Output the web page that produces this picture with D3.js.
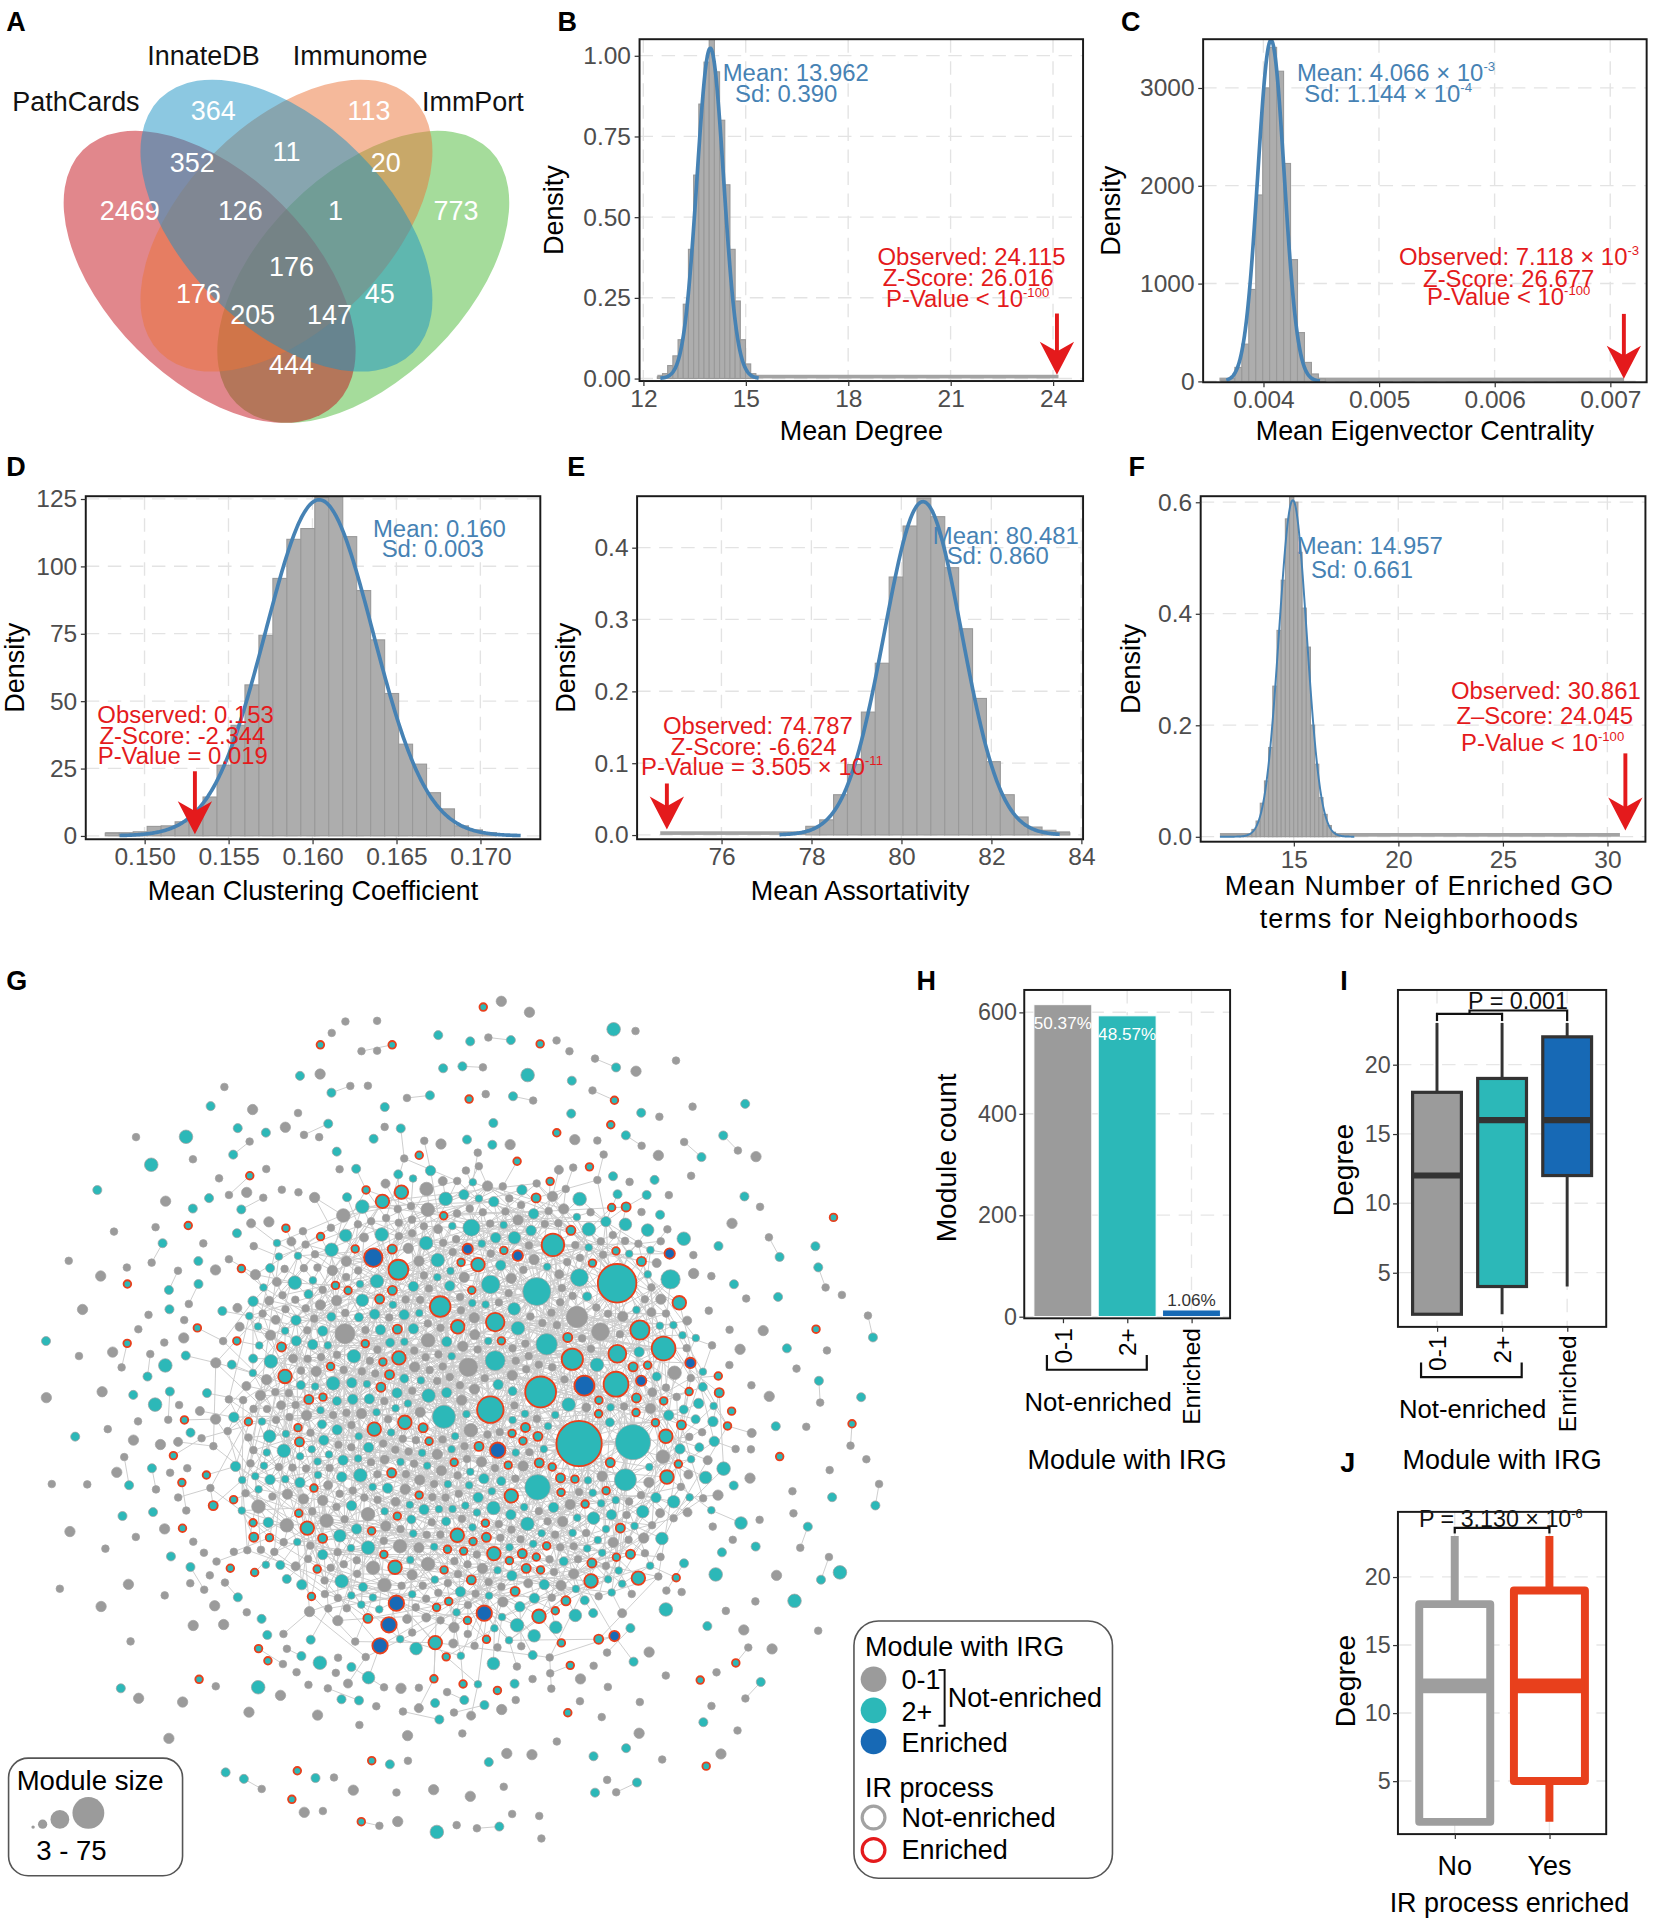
<!DOCTYPE html>
<html><head><meta charset="utf-8">
<script src="https://cdn.jsdelivr.net/npm/d3@7/dist/d3.min.js"></script>
<style>
html,body{margin:0;padding:0;background:#fff;}
svg{display:block;}
</style></head>
<body>
<svg id="fig"></svg>
<script>
// ======================= DATA =======================
// A  Venn diagram of immune-related gene sources
const vennSetNames = ["PathCards", "InnateDB", "Immunome", "ImmPort"];
const vennRegionCounts = [2469, 364, 113, 773, 352, 11, 20, 126, 1, 176, 176, 45, 205, 147, 444];

// B  Mean degree null distribution
const degreeBinStart = 12.41, degreeBinWidth = 0.152;
const degreeDensity = [0.005, 0.015, 0.04, 0.07, 0.12, 0.23, 0.40, 0.63, 0.85, 0.98, 1.08, 0.95, 0.80, 0.60, 0.40, 0.24, 0.12, 0.045, 0.015];
const degreeFit = [13.962, 0.390];          // mean, sd of normal fit
const degreeObserved = 24.115;
const degreeXTicks = [12, 15, 18, 21, 24];
const degreeYTicks = [0, 0.25, 0.5, 0.75, 1.0];

// C  Mean eigenvector centrality
const eigenBinStart = 0.003633, eigenBinWidth = 0.0000602;
const eigenDensity = [8, 30, 142, 380, 939, 1905, 3000, 3414, 3170, 2227, 1244, 498, 193, 75, 24];
const eigenFit = [0.004066, 0.0001144];
const eigenObserved = 0.007118;
const eigenXTicks = [0.004, 0.005, 0.006, 0.007];
const eigenYTicks = [0, 1000, 2000, 3000];

// D  Mean clustering coefficient
const clusterBinStart = 0.14766, clusterBinWidth = 0.000832;
const clusterDensity = [1, 1, 1.5, 3.5, 3.7, 5.2, 8, 14.4, 26.2, 41, 56, 74.4, 95.5, 110, 114, 125.5, 127, 111, 91, 72.7, 52.8, 34, 26.6, 16, 10, 3.7, 2.2, 1];
const clusterFit = [0.1604, 0.0032];
const clusterObserved = 0.153;
const clusterXTicks = [0.150, 0.155, 0.160, 0.165, 0.170];
const clusterYTicks = [0, 25, 50, 75, 100, 125];

// E  Mean assortativity
const assortBinStart = 77.875, assortBinWidth = 0.309;
const assortDensity = [0.012, 0.021, 0.056, 0.098, 0.171, 0.239, 0.359, 0.430, 0.469, 0.443, 0.372, 0.287, 0.190, 0.102, 0.056, 0.025, 0.011, 0.0065, 0.003];
const assortFit = [80.481, 0.860];
const assortObserved = 74.787;
const assortXTicks = [76, 78, 80, 82, 84];
const assortYTicks = [0, 0.1, 0.2, 0.3, 0.4];

// F  Mean number of enriched GO terms
const goBinStart = 12.4, goBinWidth = 0.2;
const goDensity = [0.001, 0.002, 0.005, 0.013, 0.028, 0.06, 0.10, 0.16, 0.27, 0.37, 0.46, 0.57, 0.61, 0.60, 0.51, 0.41, 0.34, 0.20, 0.13, 0.07, 0.04, 0.02, 0.008, 0.003];
const goFit = [14.957, 0.661];
const goObserved = 30.861;
const goXTicks = [15, 20, 25, 30];
const goYTicks = [0, 0.2, 0.4, 0.6];

// H  Module counts by IRG content
const irgCategories = ["0-1", "2+", "Enriched"];
const irgModuleCounts = [615, 593, 13];
const irgModulePercent = ["50.37%", "48.57%", "1.06%"];
const moduleCountTicks = [0, 200, 400, 600];

// I  Degree by IRG category  [lower whisker, Q1, median, Q3, upper whisker]
const irgDegreeBox = [[2, 2, 12, 18, 23], [2, 4, 16, 19, 23], [4, 12, 16, 22, 23]];
const degreeTicksI = [5, 10, 15, 20];

// J  Degree by IR process enrichment
const irProcessGroups = ["No", "Yes"];
const irDegreeBox = [[2, 2, 12, 18, 23], [2, 5, 12, 19, 23]];
const degreeTicksJ = [5, 10, 15, 20];

// G  Module network: largest modules  [IRG group, IR process enriched (1/0), module size]
const hubModules = [
  ["2+",1,75],["2+",1,55],["2+",0,46],["2+",1,36],["2+",0,30],["2+",1,27],["2+",0,25],["2+",1,24],
  ["2+",1,22],["2+",0,21],["2+",1,20],["2+",0,19],["2+",1,18],["2+",0,18],["2+",1,17],["2+",0,16],
  ["2+",1,16],["2+",0,15],["2+",1,15],["2+",0,14],["2+",1,14],["2+",0,13],["2+",1,13],["2+",0,12],
  ["0-1",0,18],["0-1",0,16],["0-1",0,14],["0-1",0,13],
  ["Enriched",1,16],["Enriched",1,14]
];
// remaining modules  [IRG group, IR enriched, module size, count, placement in network]
const moduleClasses = [
  ["0-1",0,8,15,"core"],["0-1",0,5,60,"core"],["0-1",0,3,225,"core"],
  ["0-1",0,4,40,"leaf"],["0-1",0,3,50,"leaf"],
  ["0-1",0,3,50,"pair"],
  ["0-1",0,5,60,"solo"],["0-1",0,3,111,"solo"],
  ["2+",1,8,20,"core"],["2+",0,8,25,"core"],["2+",1,4,40,"core"],["2+",1,3,50,"core"],["2+",0,5,60,"core"],["2+",0,3,135,"core"],
  ["2+",1,3,30,"leaf"],["2+",0,4,40,"leaf"],["2+",0,7,20,"leaf"],
  ["2+",1,3,10,"pair"],["2+",0,4,40,"pair"],
  ["2+",1,3,25,"solo"],["2+",0,4,60,"solo"],["2+",0,8,14,"solo"],
  ["Enriched",1,10,5,"core"],["Enriched",1,5,6,"core"]
];
const moduleSizeLegend = [3, 10, 30, 75];

// ======================= STYLE / SETUP =======================
const FONT = '"Liberation Sans", Arial, Helvetica, sans-serif';
const TICKCOL = "#4D4D4D";
const BLUE_TXT = "#4682B4";
const RED_TXT = "#E41A1C";
const GROUP_COL = {"0-1": "#9B9B9B", "2+": "#2CB8B8", "Enriched": "#1769B5"};
const IR_RED = "#E8401C";

const svg = d3.select("#fig").attr("width", 1654).attr("height", 1926)
  .attr("viewBox", "0 0 1350 1572").style("font-family", FONT);
svg.append("rect").attr("width", 1350).attr("height", 1572).attr("fill", "#fff");
const defs = svg.append("defs");

function addText(g, x, y, segs, o) {
  const t = g.append("text").attr("x", x).attr("y", y)
    .attr("text-anchor", o.anchor || "middle").attr("dominant-baseline", "central")
    .attr("font-size", o.size).attr("fill", o.color || "#000");
  if (o.weight) t.attr("font-weight", o.weight);
  if (o.ls) t.attr("letter-spacing", o.ls);
  if (o.rotate) t.attr("transform", `rotate(${o.rotate},${x},${y})`);
  segs.forEach(s => {
    if (typeof s === "string") t.append("tspan").text(s);
    else t.append("tspan").attr("font-size", o.size * 0.55).attr("dy", -o.size * 0.26).text(s.sup);
  });
  return t;
}

// panel letters
[["A",5,18],["B",455,18],["C",915,18],["D",5,381],["E",463,381],["F",921,381],["G",5,801],["H",748,801],["I",1094,801],["J",1094,1194]]
  .forEach(([l, x, y]) => addText(svg, x, y, [l], {anchor: "start", size: 22, weight: "bold"}));

// ======================= A: VENN =======================
(function () {
  const g = svg.append("g");
  const xV = d3.scaleLinear().domain([0, 1]).range([24.8, 442.8]);
  const yV = d3.scaleLinear().domain([0, 1]).range([4.4, 422.4]);
  const k = xV(1) - xV(0);
  const ell = [ // drawn bottom to top: ImmPort, PathCards, Immunome, InnateDB
    {c: [0.65, 0.53], rot: -45, col: "#4BB937"},
    {c: [0.35, 0.53], rot: 45, col: "#C30F19"},
    {c: [0.50, 0.43], rot: -45, col: "#EB7337"},
    {c: [0.50, 0.43], rot: 45, col: "#1991C3"}
  ];
  ell.forEach(e => {
    g.append("ellipse").attr("cx", 0).attr("cy", 0).attr("rx", 0.35 * k).attr("ry", 0.2 * k)
      .attr("transform", `translate(${xV(e.c[0])},${yV(e.c[1])}) rotate(${e.rot})`)
      .attr("fill", e.col).attr("fill-opacity", 0.5);
  });
  const labelPos = [[0.194,0.401],[0.357,0.207],[0.661,0.207],[0.831,0.401],[0.316,0.308],[0.500,0.286],[0.694,0.308],
    [0.410,0.401],[0.596,0.401],[0.510,0.511],[0.328,0.564],[0.682,0.564],[0.434,0.604],[0.584,0.604],[0.510,0.702]];
  vennRegionCounts.forEach((v, i) => addText(g, xV(labelPos[i][0]), yV(labelPos[i][1]), [String(v)], {size: 22, color: "#fff"}));
  const setPos = [[0.089, 0.188], [0.338, 0.099], [0.644, 0.099], [0.864, 0.188]];
  vennSetNames.forEach((n, i) => addText(g, xV(setPos[i][0]), yV(setPos[i][1]), [n], {size: 22, color: "#111"}));
})();

// ======================= B-F: HISTOGRAMS =======================
function normalPdf(v, m, s) { return Math.exp(-0.5 * ((v - m) / s) ** 2) / (s * Math.sqrt(2 * Math.PI)); }

function histPanel(c) {
  const [x0, y0, x1, y1] = c.box;
  const x = d3.scaleLinear().domain(c.xDom).range([x0, x1]);
  const y = d3.scaleLinear().domain(c.yDom).range([y1, y0]);
  const g = svg.append("g");
  defs.append("clipPath").attr("id", "clip" + c.id).append("rect")
    .attr("x", x0).attr("y", y0).attr("width", x1 - x0).attr("height", y1 - y0);
  const grid = g.append("g").attr("stroke", "#E3E3E3").attr("stroke-width", 1.1).attr("stroke-dasharray", "11,7");
  c.xTicks.forEach(t => grid.append("line").attr("x1", x(t)).attr("x2", x(t)).attr("y1", y0).attr("y2", y1));
  c.yTicks.forEach(t => grid.append("line").attr("y1", y(t)).attr("y2", y(t)).attr("x1", x0).attr("x2", x1));
  const inner = g.append("g").attr("clip-path", `url(#clip${c.id})`);
  inner.append("rect").attr("x", x(c.span[0])).attr("width", x(c.span[1]) - x(c.span[0]))
    .attr("y", y(0) - 3).attr("height", 3).attr("fill", "#A3A3A3");
  inner.selectAll("rect.bar").data(c.values).join("rect").attr("class", "bar")
    .attr("x", (d, i) => x(c.start + i * c.width)).attr("width", x(c.start + c.width) - x(c.start))
    .attr("y", d => y(d)).attr("height", d => y(0) - y(d))
    .attr("fill", "#ADADAD").attr("stroke", "#999999").attr("stroke-width", 0.9);
  const n = 400, xs = d3.range(n + 1).map(i => c.curveRange[0] + (c.curveRange[1] - c.curveRange[0]) * i / n);
  inner.append("path").datum(xs)
    .attr("d", d3.line().x(v => x(v)).y(v => y(normalPdf(v, c.fit[0], c.fit[1]))))
    .attr("fill", "none").attr("stroke", "#4682B4").attr("stroke-width", c.curveWidth);
  const ax = x(c.observed), yz = y(0);
  const top = yz - c.arrow[0], tip = yz - c.arrow[1];
  g.append("line").attr("x1", ax).attr("x2", ax).attr("y1", top).attr("y2", tip - 12)
    .attr("stroke", RED_TXT).attr("stroke-width", 3.2);
  g.append("path").attr("d", `M${ax},${tip} L${ax - 14},${tip - 27} L${ax},${tip - 19} L${ax + 14},${tip - 27} Z`).attr("fill", RED_TXT);
  g.append("rect").attr("x", x0).attr("y", y0).attr("width", x1 - x0).attr("height", y1 - y0)
    .attr("fill", "none").attr("stroke", "#1a1a1a").attr("stroke-width", 1.6);
  const ax1 = g.append("g").attr("transform", `translate(0,${y1})`)
    .call(d3.axisBottom(x).tickValues(c.xTicks).tickFormat(c.xFmt).tickSize(4).tickPadding(3));
  const ax2 = g.append("g").attr("transform", `translate(${x0},0)`)
    .call(d3.axisLeft(y).tickValues(c.yTicks).tickFormat(c.yFmt).tickSize(4).tickPadding(3));
  [ax1, ax2].forEach(a => {
    a.select(".domain").remove();
    a.attr("font-family", FONT).attr("font-size", 20);
    a.selectAll("line").attr("stroke", "#333");
    a.selectAll("text").attr("fill", TICKCOL);
  });
  c.xTitle.forEach((t, i) => addText(g, (x0 + x1) / 2 + (c.xTitleDx || 0), c.xTitleY + i * 27, [t], {size: 22, ls: c.xTitleLs}));
  addText(g, c.yTitleX, (y0 + y1) / 2, ["Density"], {size: 22, rotate: -90});
  c.blue.forEach((s, i) => addText(g, c.bluePos[i][0], c.bluePos[i][1], s, {size: 19.5, color: BLUE_TXT}));
  c.red.forEach((s, i) => addText(g, c.redPos[i][0], c.redPos[i][1], s, {size: 19.5, color: RED_TXT}));
}

histPanel({id: "B", box: [522, 32, 884, 311], xDom: [11.89, 24.88], yDom: [-0.008, 1.051],
  xTicks: degreeXTicks, xFmt: d3.format("d"), yTicks: degreeYTicks, yFmt: d3.format(".2f"),
  start: degreeBinStart, width: degreeBinWidth, values: degreeDensity, fit: degreeFit,
  curveRange: [12.5, 15.38], span: [12.41, 24.16], observed: degreeObserved, curveWidth: 3, arrow: [53, 3],
  xTitle: ["Mean Degree"], xTitleY: 352, yTitleX: 452,
  blue: [["Mean: 13.962"], ["Sd: 0.390"]], bluePos: [[649.5, 59], [641.7, 76]],
  red: [["Observed: 24.115"], ["Z-Score: 26.016"], ["P-Value < 10", {sup: "-100"}]],
  redPos: [[793, 209], [790.3, 226], [789.8, 243]]});

histPanel({id: "C", box: [982, 32, 1344, 312], xDom: [0.003479, 0.007315], yDom: [-10, 3497.5],
  xTicks: eigenXTicks, xFmt: d3.format(".3f"), yTicks: eigenYTicks, yFmt: d3.format("d"),
  start: eigenBinStart, width: eigenBinWidth, values: eigenDensity, fit: eigenFit,
  curveRange: [0.00368, 0.00449], span: [0.00362, 0.00712], observed: eigenObserved, curveWidth: 3, arrow: [55, 2],
  xTitle: ["Mean Eigenvector Centrality"], xTitleY: 352, yTitleX: 907,
  blue: [["Mean: 4.066 × 10", {sup: "-3"}], ["Sd: 1.144 × 10", {sup: "-4"}]], bluePos: [[1139.4, 59], [1133, 76]],
  red: [["Observed: 7.118 × 10", {sup: "-3"}], ["Z-Score: 26.677"], ["P-Value < 10", {sup: "-100"}]],
  redPos: [[1239.8, 209], [1231.4, 227], [1231.4, 242]]});

histPanel({id: "D", box: [70, 405, 441, 685], xDom: [0.1465, 0.17357], yDom: [-1.27, 126],
  xTicks: clusterXTicks, xFmt: d3.format(".3f"), yTicks: clusterYTicks, yFmt: d3.format("d"),
  start: clusterBinStart, width: clusterBinWidth, values: clusterDensity, fit: clusterFit,
  curveRange: [0.14851, 0.1724], span: [0.14766, 0.17098], observed: clusterObserved, curveWidth: 3, arrow: [52.7, 1.2],
  xTitle: ["Mean Clustering Coefficient"], xTitleY: 727, yTitleX: 12,
  blue: [["Mean: 0.160"], ["Sd: 0.003"]], bluePos: [[358.6, 430.7], [353.2, 447]],
  red: [["Observed: 0.153"], ["Z-Score: -2.344"], ["P-Value = 0.019"]],
  redPos: [[151.5, 582.7], [148.9, 599.8], [149.2, 616]]});

histPanel({id: "E", box: [520, 405, 884, 685], xDom: [74.125, 84.04], yDom: [-0.006, 0.4715],
  xTicks: assortXTicks, xFmt: d3.format("d"), yTicks: assortYTicks, yFmt: d3.format(".1f"),
  start: assortBinStart, width: assortBinWidth, values: assortDensity, fit: assortFit,
  curveRange: [77.29, 83.52], span: [74.64, 83.75], observed: assortObserved, curveWidth: 3, arrow: [42, 4.4],
  xTitle: ["Mean Assortativity"], xTitleY: 727, yTitleX: 462,
  blue: [["Mean: 80.481"], ["Sd: 0.860"]], bluePos: [[821, 436.6], [814.4, 452.8]],
  red: [["Observed: 74.787"], ["Z-Score: -6.624"], ["P-Value = 3.505 × 10", {sup: "-11"}]],
  redPos: [[618.6, 591.9], [615.2, 608.6], [622, 625.6]]});

histPanel({id: "F", box: [980, 405, 1343, 687], xDom: [10.55, 31.82], yDom: [-0.009, 0.6107],
  xTicks: goXTicks, xFmt: d3.format("d"), yTicks: goYTicks, yFmt: d3.format(".1f"),
  start: goBinStart, width: goBinWidth, values: goDensity, fit: goFit,
  curveRange: [11.47, 17.9], span: [11.47, 30.6], observed: goObserved, curveWidth: 1.6, arrow: [68, 5],
  xTitle: ["Mean Number of Enriched GO", "terms for Neighborhoods"], xTitleY: 723, xTitleDx: -3, xTitleLs: 0.8, yTitleX: 923,
  blue: [["Mean: 14.957"], ["Sd: 0.661"]], bluePos: [[1118, 444.7], [1111.7, 464.8]],
  red: [["Observed: 30.861"], ["Z–Score: 24.045"], ["P-Value < 10", {sup: "-100"}]],
  redPos: [[1261.7, 563.5], [1260.8, 583.9], [1259.1, 605.6]]});

// ======================= shared helpers for H, I, J =======================
function frameAxes(g, box, yScale, yTicks, xScale, cats) {
  const [x0, y0, x1, y1] = box;
  const grid = g.append("g").attr("stroke", "#E6E6E6").attr("stroke-width", 1.1).attr("stroke-dasharray", "11,7");
  yTicks.forEach(t => grid.append("line").attr("x1", x0).attr("x2", x1).attr("y1", yScale(t)).attr("y2", yScale(t)));
  cats.forEach(cn => grid.append("line").attr("x1", xScale(cn)).attr("x2", xScale(cn)).attr("y1", y0).attr("y2", y1));
}
function finishAxes(g, box, yScale, yTicks, xScale, cats) {
  const [x0, y0, x1, y1] = box;
  g.append("rect").attr("x", x0).attr("y", y0).attr("width", x1 - x0).attr("height", y1 - y0)
    .attr("fill", "none").attr("stroke", "#1a1a1a").attr("stroke-width", 1.6);
  const ay = g.append("g").attr("transform", `translate(${x0},0)`)
    .call(d3.axisLeft(yScale).tickValues(yTicks).tickFormat(d3.format("d")).tickSize(4).tickPadding(2));
  const ax = g.append("g").attr("transform", `translate(0,${y1})`)
    .call(d3.axisBottom(xScale).tickValues(cats).tickSize(4).tickFormat(""));
  [ay, ax].forEach(a => {
    a.select(".domain").remove();
    a.attr("font-family", FONT).attr("font-size", 19);
    a.selectAll("line").attr("stroke", "#333");
    a.selectAll("text").attr("fill", TICKCOL);
  });
}
function irgXLabels(g, xScale, yTop, bracketY, notY, titleY) {
  irgCategories.forEach(cn => addText(g, xScale(cn), yTop, [cn], {size: 20, anchor: "end", rotate: -90}));
  const bx0 = xScale("0-1") - 13, bx1 = xScale("2+") + 16;
  g.append("path").attr("d", `M${bx0},${bracketY - 12} V${bracketY} H${bx1} V${bracketY - 12}`)
    .attr("fill", "none").attr("stroke", "#111").attr("stroke-width", 1.8);
  addText(g, (bx0 + bx1) / 2 + 1, notY, ["Not-enriched"], {size: 21});
  addText(g, xScale("2+"), titleY, ["Module with IRG"], {size: 22});
}

// ======================= H =======================
(function () {
  const box = [836, 808, 1004, 1076];
  const g = svg.append("g");
  const x = d3.scalePoint().domain(irgCategories).range([box[0], box[2]]).padding(0.6);
  const y = d3.scaleLinear().domain([-3.4, 644]).range([box[3], box[1]]);
  frameAxes(g, box, y, moduleCountTicks, x, irgCategories);
  const bw = x.step() * 0.9;
  g.selectAll("rect.bar").data(irgModuleCounts).join("rect")
    .attr("x", (d, i) => x(irgCategories[i]) - bw / 2).attr("width", bw)
    .attr("y", d => y(d)).attr("height", d => y(0) - y(d))
    .attr("fill", (d, i) => GROUP_COL[irgCategories[i]]).attr("stroke", "#fff").attr("stroke-width", 0.8);
  irgModulePercent.forEach((p, i) => {
    const v = irgModuleCounts[i];
    const inside = i < 2;
    addText(g, x(irgCategories[i]), inside ? y(v) + 15 : y(v) - 8, [p], {size: 14, color: inside ? "#fff" : "#333"});
  });
  finishAxes(g, box, y, moduleCountTicks, x, irgCategories);
  addText(g, 772, 945, ["Module count"], {size: 23, rotate: -90});
  irgXLabels(g, x, 1084, 1118, 1144, 1192);
})();

// ======================= I =======================
(function () {
  const box = [1141, 808, 1311, 1083];
  const g = svg.append("g");
  const x = d3.scalePoint().domain(irgCategories).range([box[0], box[2]]).padding(0.6);
  const y = d3.scaleLinear().domain([1.09, 25.38]).range([box[3], box[1]]);
  frameAxes(g, box, y, degreeTicksI, x, irgCategories);
  const bw = x.step() * 0.75;
  irgDegreeBox.forEach((b, i) => {
    const cx = x(irgCategories[i]);
    g.append("line").attr("x1", cx).attr("x2", cx).attr("y1", y(b[0])).attr("y2", y(b[4])).attr("stroke", "#333").attr("stroke-width", 2.4);
    g.append("rect").attr("x", cx - bw / 2).attr("width", bw).attr("y", y(b[3])).attr("height", y(b[1]) - y(b[3]))
      .attr("fill", GROUP_COL[irgCategories[i]]).attr("stroke", "#333").attr("stroke-width", 2.6);
    g.append("line").attr("x1", cx - bw / 2).attr("x2", cx + bw / 2).attr("y1", y(b[2])).attr("y2", y(b[2])).attr("stroke", "#333").attr("stroke-width", 5);
  });
  const xa = x("0-1"), xb = x("2+"), xc = x("Enriched"), xm = (xa + xb) / 2;
  const yl = y(23.65), yu = y(23.9), yd = y(23.15);
  g.append("path").attr("d", `M${xa},${yd} V${yl} H${xb} V${yd} M${xm},${yl} V${yu} H${xc} V${yd}`)
    .attr("fill", "none").attr("stroke", "#111").attr("stroke-width", 1.8);
  addText(g, 1239, y(24.55), ["P = 0.001"], {size: 19, color: "#111"});
  finishAxes(g, box, y, degreeTicksI, x, irgCategories);
  addText(g, 1096, 955, ["Degree"], {size: 23, rotate: -90});
  irgXLabels(g, x, 1090, 1124, 1150, 1192);
})();

// ======================= J =======================
(function () {
  const box = [1141, 1234, 1311, 1497];
  const g = svg.append("g");
  const x = d3.scalePoint().domain(irProcessGroups).range([box[0], box[2]]).padding(0.6);
  const y = d3.scaleLinear().domain([1.1, 24.78]).range([box[3], box[1]]);
  frameAxes(g, box, y, degreeTicksJ, x, irProcessGroups);
  const cols = ["#9E9E9E", IR_RED];
  const bw = x.step() * 0.75;
  irDegreeBox.forEach((b, i) => {
    const cx = x(irProcessGroups[i]);
    g.append("line").attr("x1", cx).attr("x2", cx).attr("y1", y(b[0])).attr("y2", y(b[4])).attr("stroke", cols[i]).attr("stroke-width", 6.5);
    g.append("rect").attr("x", cx - bw / 2).attr("width", bw).attr("y", y(b[3])).attr("height", y(b[1]) - y(b[3]))
      .attr("fill", "#fff").attr("stroke", cols[i]).attr("stroke-width", 6.5).attr("stroke-linejoin", "round");
    g.append("line").attr("x1", cx - bw / 2).attr("x2", cx + bw / 2).attr("y1", y(b[2])).attr("y2", y(b[2])).attr("stroke", cols[i]).attr("stroke-width", 12);
  });
  const xa = x("No"), xb = x("Yes");
  g.append("path").attr("d", `M${xa},${y(23.2)} V${y(23.6)} H${xb} V${y(23.2)}`)
    .attr("fill", "none").attr("stroke", "#111").attr("stroke-width", 1.8);
  addText(g, 1225, y(24.22), ["P = 3.130 × 10", {sup: "-6"}], {size: 19, color: "#111"});
  finishAxes(g, box, y, degreeTicksJ, x, irProcessGroups);
  irProcessGroups.forEach(gn => addText(g, x(gn), 1523, [gn], {size: 22}));
  addText(g, 1098, 1372, ["Degree"], {size: 23, rotate: -90});
  addText(g, 1232, 1553, ["IR process enriched"], {size: 22});
})();

// ======================= G: NETWORK =======================
(function () {
  const g = svg.append("g");
  const fr = v => v - Math.floor(v);
  const rNode = d3.scaleSqrt().domain([3, 75]).range([3.1, 18.5]);
  const nodes = [];
  hubModules.forEach(h => nodes.push({group: h[0], ir: h[1], size: h[2], place: "core"}));
  ["core", "leaf", "pair", "solo"].forEach(place => {
    const items = [];
    moduleClasses.filter(c => c[4] === place).forEach((c, ci) => {
      for (let j = 0; j < c[3]; j++) items.push({group: c[0], ir: c[1], size: c[2], place, key: (j + 0.5) / c[3] + ci * 1e-4});
    });
    items.sort((a, b) => a.key - b.key);
    items.forEach(d => nodes.push(d));
  });
  const idxOf = p => nodes.map((d, i) => i).filter(i => nodes[i].place === p);
  const coreIdx = idxOf("core"), leafIdx = idxOf("leaf"), pairIdx = idxOf("pair");
  const edgeList = [];   // [sourceIndex, targetIndex] into nodes
  for (let i = 1; i < coreIdx.length; i++) {
    const t1 = Math.floor(fr(i * 0.6180339887) * i);
    edgeList.push([coreIdx[i], coreIdx[t1]]);
    if (fr(i * 0.7548776662) < 0.8) {
      const t2 = Math.floor(fr(i * 0.5698402910 + 0.37) * i);
      if (t2 !== t1) edgeList.push([coreIdx[i], coreIdx[t2]]);
    }
    if (fr(i * 0.4142135624) < 0.45) {
      const t3 = Math.floor(fr(i * 0.2360679775 + 0.71) * i);
      if (t3 !== t1) edgeList.push([coreIdx[i], coreIdx[t3]]);
    }
  }
  leafIdx.forEach((li, j) => edgeList.push([li, coreIdx[Math.floor(fr(j * 0.6180339887 + 0.123) * coreIdx.length)]]));
  const nCoreEdges = edgeList.length;
  for (let m = 0; m + 1 < pairIdx.length; m += 2) edgeList.push([pairIdx[m], pairIdx[m + 1]]);

  // phase 1: the connected component
  const connected = nodes.filter(d => d.place === "core" || d.place === "leaf");
  const cIndex = new Map(connected.map((d, i) => [d, i]));
  const linksA = edgeList.slice(0, nCoreEdges).map(e => ({source: cIndex.get(nodes[e[0]]), target: cIndex.get(nodes[e[1]])}));
  const biasX = d => d.ir ? 30 : d.group === "0-1" ? -30 : 6;
  const simA = d3.forceSimulation(connected)
    .force("link", d3.forceLink(linksA).distance(l => 7 + rNode(l.source.size) + rNode(l.target.size)))
    .force("charge", d3.forceManyBody().strength(-4.5))
    .force("collide", d3.forceCollide(d => rNode(d.size) + 1.6))
    .force("x", d3.forceX(biasX).strength(0.06))
    .force("y", d3.forceY(0).strength(0.06))
    .stop();
  for (let t = 0; t < 400; t++) simA.tick();
  const cx = d3.mean(connected, d => d.x), cy = d3.mean(connected, d => d.y);
  const coreR = d3.quantile(connected.map(d => Math.hypot(d.x - cx, d.y - cy)).sort(d3.ascending), 0.9);

  // phase 2: unconnected modules and pairs arranged around the core (denser near the core)
  const outer = nodes.filter(d => d.place === "pair" || d.place === "solo");
  const pairSlot = new Map();
  pairIdx.forEach((ni, j) => pairSlot.set(nodes[ni], Math.floor(j / 2)));
  outer.forEach((d, k) => {
    const u = pairSlot.has(d) ? fr(pairSlot.get(d) * 0.7548776662 + 0.21) : fr(k * 0.7548776662 + 0.5);
    d.ring = coreR * (1.08 + 0.64 * Math.pow(u, 1.25));
  });
  const oIndex = new Map(outer.map((d, i) => [d, i]));
  const linksB = edgeList.slice(nCoreEdges).map(e => ({source: oIndex.get(nodes[e[0]]), target: oIndex.get(nodes[e[1]])}));
  const simB = d3.forceSimulation(outer)
    .force("link", d3.forceLink(linksB).distance(15).strength(0.7))
    .force("ring", d3.forceRadial(d => d.ring, cx, cy).strength(0.6))
    .force("charge", d3.forceManyBody().strength(-1.5).distanceMax(35))
    .force("collide", d3.forceCollide(d => rNode(d.size) + 3))
    .force("x", d3.forceX(d => d.ir ? cx + 500 : d.group === "0-1" ? cx - 500 : cx).strength(0.0012))
    .stop();
  for (let t = 0; t < 300; t++) simB.tick();

  // phase 3: settle the outer modules against the core
  connected.forEach(d => { d.fx = d.x; d.fy = d.y; });
  const simC = d3.forceSimulation(nodes)
    .force("collide", d3.forceCollide(d => rNode(d.size) + 2.2))
    .force("ring", d3.forceRadial(d => d.ring || 0, cx, cy).strength(d => d.ring ? 0.1 : 0))
    .alpha(0.3).stop();
  for (let t = 0; t < 80; t++) simC.tick();

  const s = 205 / coreR;
  const xN = d3.scaleLinear().domain([cx - 1, cx + 1]).range([372 - s, 372 + s]);
  const yN = d3.scaleLinear().domain([cy - 1, cy + 1]).range([1157 - s, 1157 + s]);
  g.append("g").attr("stroke", "#CDCDCD").attr("stroke-width", 0.8)
    .selectAll("line").data(edgeList).join("line")
    .attr("x1", e => xN(nodes[e[0]].x)).attr("y1", e => yN(nodes[e[0]].y))
    .attr("x2", e => xN(nodes[e[1]].x)).attr("y2", e => yN(nodes[e[1]].y));
  const sorted = nodes.slice().sort((a, b) => (a.size - b.size) || (a.ir - b.ir));
  g.append("g").selectAll("circle").data(sorted).join("circle")
    .attr("cx", d => xN(d.x)).attr("cy", d => yN(d.y)).attr("r", d => rNode(d.size))
    .attr("fill", d => GROUP_COL[d.group])
    .attr("stroke", d => d.ir ? IR_RED : "#A2A2A2").attr("stroke-width", d => d.ir ? 1.5 : 0.6);

  // module size legend
  const lg = svg.append("g");
  lg.append("rect").attr("x", 7).attr("y", 1435).attr("width", 142).attr("height", 96).attr("rx", 16)
    .attr("fill", "#fff").attr("stroke", "#555").attr("stroke-width", 1.3);
  addText(lg, 13.6, 1453, ["Module size"], {anchor: "start", size: 22.5});
  const rLeg = d3.scaleSqrt().domain([3, 75]).range([1.4, 13]);
  let cxL = 27;
  moduleSizeLegend.forEach((sz, i) => {
    const r = rLeg(sz);
    if (i > 0) cxL += r;
    lg.append("circle").attr("cx", cxL).attr("cy", 1492.7 - r).attr("r", r).attr("fill", "#9B9B9B");
    cxL += r + 2.6;
  });
  addText(lg, 58.3, 1510, ["3 - 75"], {size: 22.5});

  // IRG / IR process legend
  const l2 = svg.append("g");
  l2.append("rect").attr("x", 697).attr("y", 1323).attr("width", 211).attr("height", 210).attr("rx", 20)
    .attr("fill", "#fff").attr("stroke", "#555").attr("stroke-width", 1.3);
  addText(l2, 706, 1344, ["Module with IRG"], {anchor: "start", size: 22});
  const legRows = [["0-1", 1370.6], ["2+", 1396], ["Enriched", 1421.4]];
  legRows.forEach(([gname, yy]) => {
    l2.append("circle").attr("cx", 713).attr("cy", yy).attr("r", 10.5).attr("fill", GROUP_COL[gname]);
    addText(l2, 735.8, yy + 1, [gname], {anchor: "start", size: 22});
  });
  l2.append("path").attr("d", "M766,1363 H771 V1408.6 H766").attr("fill", "none").attr("stroke", "#111").attr("stroke-width", 1.6);
  addText(l2, 773.5, 1385.9, ["Not-enriched"], {anchor: "start", size: 22});
  addText(l2, 706, 1459.4, ["IR process"], {anchor: "start", size: 22});
  [["Not-enriched", 1483.5, "#A2A2A2"], ["Enriched", 1510, "#E41A1C"]].forEach(([lbl, yy, col]) => {
    l2.append("circle").attr("cx", 713).attr("cy", yy).attr("r", 9.3).attr("fill", "none").attr("stroke", col).attr("stroke-width", 2.6);
    addText(l2, 735.8, yy, [lbl], {anchor: "start", size: 22});
  });
})();
</script>
</body></html>
